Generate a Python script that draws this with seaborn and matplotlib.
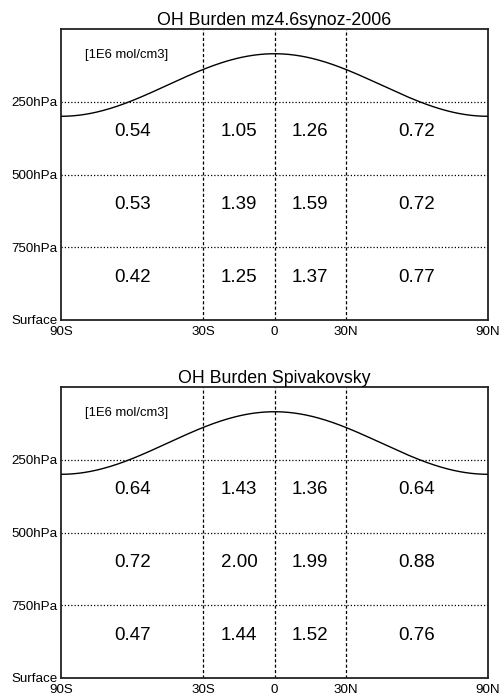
import numpy as np
import pandas as pd
import matplotlib
matplotlib.use("Agg")
import matplotlib.pyplot as plt
import seaborn as sns

# Latitude bands (column centres) and pressure bands (row centres)
band_edges_lat = [-90, -30, 0, 30, 90]
band_centres_lat = [-60, -15, 15, 60]
row_centres_p = [375, 625, 875]

x_ticks = [-90, -30, 0, 30, 90]
x_labels = ["90S", "30S", "0", "30N", "90N"]
y_ticks = [250, 500, 750, 1000]
y_labels = ["250hPa", "500hPa", "750hPa", "Surface"]

titles = ["OH Burden mz4.6synoz-2006", "OH Burden Spivakovsky"]
units = "[1E6 mol/cm3]"

# Mean OH, rows: upper / middle / lower troposphere; columns: 90S-30S, 30S-0, 0-30N, 30N-90N
oh_mz46 = [
    [0.54, 1.05, 1.26, 0.72],
    [0.53, 1.39, 1.59, 0.72],
    [0.42, 1.25, 1.37, 0.77],
]
oh_spivakovsky = [
    [0.64, 1.43, 1.36, 0.64],
    [0.72, 2.00, 1.99, 0.88],
    [0.47, 1.44, 1.52, 0.76],
]

# Climatological tropopause: p = base - amplitude * cos^2(lat)
trop_base = 300.0
trop_amp = 215.0
lat = np.linspace(-90, 90, 361)
trop = pd.DataFrame({"lat": lat,
                     "p": trop_base - trop_amp * np.cos(np.deg2rad(lat)) ** 2})

sns.set_theme(style="white")
plt.rcParams["font.family"] = ["Liberation Sans", "DejaVu Sans"]

fig = plt.figure(figsize=(5.0, 6.98), dpi=100)
ax_w = 427 / 500
ax_h = 291 / 698
ax_left = 61 / 500
axes = [
    fig.add_axes([ax_left, 1 - 320 / 698, ax_w, ax_h]),
    fig.add_axes([ax_left, 1 - 678 / 698, ax_w, ax_h]),
]

for ax, title, table in zip(axes, titles, [oh_mz46, oh_spivakovsky]):
    ax.set_xlim(-90, 90)
    ax.set_ylim(1000, 0)

    # band dividers
    for x in band_edges_lat[1:-1]:
        ax.axvline(x, color="black", lw=0.9, ls=(0, (2.5, 1.8)), zorder=1)
    for y in y_ticks[:-1]:
        ax.axhline(y, color="black", lw=0.9, ls=(0, (1, 1.6)), zorder=1)

    sns.lineplot(data=trop, x="lat", y="p", ax=ax, color="black", lw=1.0,
                 zorder=3)

    for row, pc in zip(table, row_centres_p):
        for val, xc in zip(row, band_centres_lat):
            ax.annotate(f"{val:.2f}", xy=(xc, pc), xytext=(0, 4.6),
                        textcoords="offset points", ha="center", va="center",
                        fontsize=13.5, color="black")

    ax.text(-80, 88, units, ha="left", va="center", fontsize=9.4,
            color="black")

    ax.set_xticks(x_ticks)
    ax.set_xticklabels(x_labels)
    ax.set_yticks(y_ticks)
    ax.set_yticklabels(y_labels)
    ax.tick_params(axis="both", length=0, labelsize=9.6, colors="black")
    ax.tick_params(axis="x", pad=4.5)
    ax.tick_params(axis="y", pad=2.5)
    ax.set_xlabel("")
    ax.set_ylabel("")
    ax.set_title(title, fontsize=12.8, pad=3.0, color="black")
    for s in ax.spines.values():
        s.set_visible(True)
        s.set_color("#222222")
        s.set_linewidth(1.3)
    ax.grid(False)

fig.savefig("out.png", dpi=100, facecolor="white")
